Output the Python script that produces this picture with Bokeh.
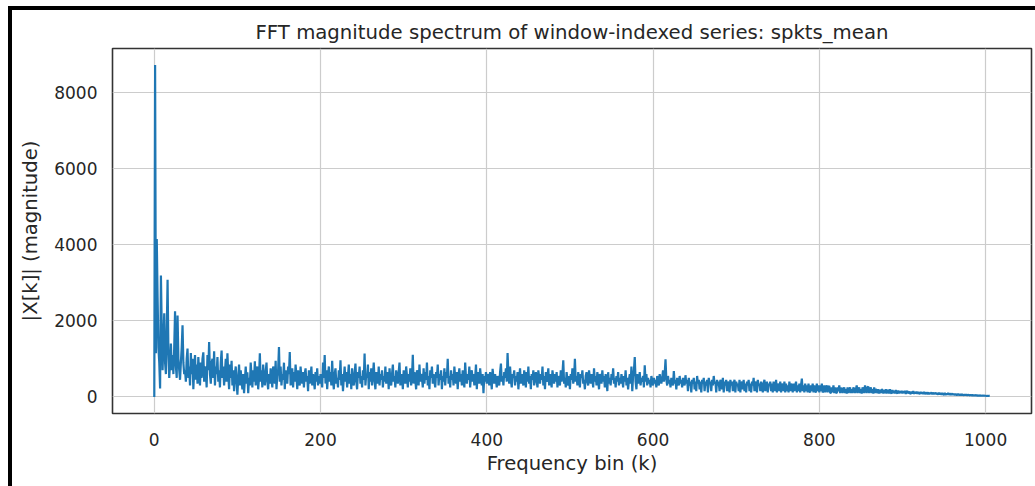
from bokeh.plotting import figure
from bokeh.models import Range1d, FixedTicker, ColumnDataSource
from bokeh.embed import file_html
from bokeh.resources import INLINE

title_text = "FFT magnitude spectrum of window-indexed series: spkts_mean"
x_label = "Frequency bin (k)"
y_label = "|X[k]| (magnitude)"
x_ticks = [0, 200, 400, 600, 800, 1000]
y_ticks = [0, 2000, 4000, 6000, 8000]

magnitude = [
    0, 8720, 1150, 4150, 2600, 1300, 900, 220, 3190, 1800, 700, 1500, 2200, 900, 600, 1700, 3080, 1200, 500, 900,
    1400, 700, 1100, 600, 1300, 2250, 800, 500, 2140, 1000, 700, 450, 900, 1300, 1880, 900, 600, 700, 400, 1000,
    1270, 500, 800, 300, 1150, 600, 1000, 200, 700, 1100, 450, 850, 350, 1050, 600, 300, 900, 500, 1000, 1170,
    400, 800, 650, 250, 1100, 700, 1440, 600, 350, 900, 1000, 500, 1200, 300, 800, 600, 1050, 400, 700, 250,
    900, 1220, 500, 800, 300, 650, 1000, 400, 1145, 600, 200, 850, 500, 950, 300, 700, 150, 600, 800, 400,
    60, 500, 850, 300, 700, 400, 200, 600, 100, 450, 800, 350, 650, 100, 500, 300, 900, 550, 250, 700,
    400, 935, 300, 600, 800, 200, 500, 1145, 400, 700, 250, 850, 500, 300, 650, 900, 400, 200, 600, 350,
    750, 500, 250, 800, 600, 350, 950, 200, 550, 700, 1310, 400, 800, 300, 600, 450, 900, 200, 700, 500,
    350, 800, 600, 1180, 300, 500, 750, 250, 650, 400, 850, 550, 200, 700, 450, 300, 800, 500, 350, 650,
    250, 600, 750, 400, 550, 150, 700, 350, 500, 800, 300, 600, 450, 200, 650, 400, 750, 300, 550, 350,
    600, 450, 250, 900, 500, 1100, 350, 700, 200, 550, 800, 400, 650, 300, 950, 450, 200, 600, 750, 350,
    500, 250, 700, 450, 960, 300, 600, 150, 500, 800, 400, 650, 250, 550, 850, 350, 600, 200, 750, 450,
    300, 600, 875, 400, 200, 650, 500, 800, 350, 550, 250, 700, 450, 1137, 300, 600, 500, 850, 200, 650,
    400, 750, 300, 550, 900, 450, 200, 650, 500, 350, 800, 300, 600, 450, 700, 250, 550, 400, 800, 350,
    500, 650, 200, 750, 450, 300, 600, 850, 400, 550, 250, 700, 500, 350, 650, 900, 300, 500, 600, 200,
    700, 450, 350, 800, 550, 250, 600, 400, 750, 300, 500, 1110, 350, 650, 450, 200, 700, 550, 300, 850,
    400, 600, 500, 250, 750, 350, 650, 450, 900, 300, 550, 200, 700, 500, 800, 350, 600, 400, 250, 650,
    500, 850, 300, 600, 450, 700, 200, 550, 400, 750, 300, 650, 500, 1000, 350, 550, 250, 700, 450, 600,
    300, 800, 500, 350, 650, 200, 550, 750, 400, 600, 300, 700, 450, 250, 900, 500, 350, 600, 450, 800,
    250, 550, 700, 400, 600, 300, 500, 850, 200, 650, 450, 350, 750, 500, 300, 600, 100, 550, 400, 650,
    350, 600, 500, 300, 650, 450, 200, 740, 500, 350, 600, 450, 250, 550, 400, 300, 650, 875, 400, 550,
    300, 650, 500, 750, 400, 1150, 600, 350, 800, 450, 250, 600, 500, 700, 300, 550, 400, 650, 200, 500,
    750, 350, 600, 450, 300, 700, 500, 250, 650, 400, 800, 350, 550, 200, 600, 450, 700, 300, 500, 650,
    400, 250, 700, 500, 350, 600, 450, 800, 300, 550, 200, 650, 400, 500, 750, 300, 600, 450, 250, 700,
    500, 350, 600, 400, 650, 250, 550, 450, 300, 700, 400, 600, 960, 350, 500, 250, 650, 450, 300, 550,
    200, 600, 450, 750, 350, 500, 1000, 400, 550, 300, 650, 450, 250, 600, 500, 700, 350, 450, 200, 550,
    650, 400, 300, 700, 500, 350, 600, 450, 250, 750, 400, 550, 300, 650, 450, 200, 600, 500, 350, 700,
    400, 550, 250, 600, 450, 150, 650, 350, 500, 300, 600, 450, 750, 350, 500, 250, 550, 400, 650, 300,
    500, 350, 600, 450, 250, 550, 400, 700, 300, 500, 200, 450, 600, 350, 800, 150, 550, 700, 1050, 400,
    200, 600, 450, 350, 650, 300, 500, 400, 550, 250, 830, 400, 600, 300, 500, 350, 450, 250, 550, 400,
    300, 500, 350, 450, 250, 550, 400, 300, 600, 450, 350, 500, 700, 400, 600, 990, 450, 300, 550, 350,
    450, 250, 500, 400, 300, 680, 350, 450, 200, 500, 400, 300, 550, 350, 450, 250, 500, 400, 300, 570,
    350, 450, 150, 500, 300, 400, 120, 450, 350, 500, 200, 400, 150, 550, 350, 450, 200, 400, 120, 450,
    350, 500, 150, 400, 300, 450, 120, 500, 350, 400, 150, 450, 300, 550, 350, 400, 120, 450, 300, 400,
    150, 450, 350, 200, 500, 120, 400, 300, 450, 150, 400, 350, 120, 450, 300, 400, 150, 350, 450, 120,
    400, 300, 350, 150, 450, 120, 350, 400, 200, 450, 150, 350, 120, 400, 300, 450, 150, 350, 120, 400,
    300, 500, 150, 350, 400, 120, 450, 300, 350, 150, 400, 300, 120, 350, 450, 150, 300, 400, 120, 350,
    300, 400, 150, 350, 120, 400, 300, 150, 450, 120, 350, 300, 150, 400, 120, 350, 300, 150, 400, 120,
    350, 150, 300, 120, 400, 150, 350, 300, 120, 350, 150, 300, 400, 120, 300, 150, 350, 120, 300, 480,
    150, 300, 120, 350, 150, 300, 120, 350, 150, 120, 300, 150, 350, 120, 300, 150, 120, 350, 150, 300,
    120, 300, 150, 350, 120, 150, 300, 120, 250, 300, 120, 250, 290, 120, 100, 250, 120, 300, 100, 250,
    120, 100, 250, 150, 300, 100, 200, 240, 100, 200, 250, 100, 200, 90, 250, 100, 200, 250, 100, 200,
    100, 250, 200, 100, 200, 300, 100, 200, 250, 100, 200, 90, 250, 200, 100, 300, 200, 100, 250, 270,
    100, 200, 250, 100, 200, 90, 250, 100, 200, 180, 100, 200, 90, 180, 100, 200, 180, 90, 180, 100,
    200, 90, 160, 180, 90, 200, 120, 90, 180, 100, 160, 90, 180, 120, 90, 170, 90, 150, 100, 160,
    90, 150, 100, 160, 80, 140, 150, 90, 140, 100, 80, 140, 90, 150, 80, 130, 90, 140, 80, 130,
    90, 80, 130, 90, 120, 80, 130, 70, 120, 90, 80, 120, 70, 110, 80, 120, 70, 110, 80, 90,
    110, 70, 100, 60, 110, 70, 100, 60, 100, 70, 60, 100, 55, 90, 60, 100, 55, 90, 60, 70,
    90, 55, 80, 50, 80, 55, 50, 80, 55, 50, 70, 45, 70, 50, 45, 60, 45, 60, 40, 55,
    50, 40, 55, 40, 50, 35, 45, 35, 45, 40, 35, 40, 30, 40, 35, 30, 35, 30, 35, 30,
    30, 25, 30, 25, 30, 28,
]
bins = list(range(len(magnitude)))

src = ColumnDataSource(data=dict(k=bins, mag=magnitude))

ymax = max(magnitude)
xmax = bins[-1]

p = figure(width=1035, height=486, output_backend="svg", toolbar_location=None,
           x_range=Range1d(-0.05 * xmax, 1.05 * xmax),
           y_range=Range1d(-0.05 * ymax, 1.05 * ymax),
           min_border_left=112, min_border_right=4, min_border_top=48, min_border_bottom=73,
           background_fill_color="white", border_fill_color="white", border_fill_alpha=0)

# black page frame at the top-left, drawn as inset shadows behind the transparent border area
p.styles = {"box-shadow": "inset 8px 6px 0 0 white, inset 12px 10px 0 0 black",
            "background-color": "white"}

p.line(x="k", y="mag", source=src, line_color="#1f77b4", line_width=2.2)

p.title.text = title_text
p.title.align = "center"
p.title.text_font = "DejaVu Sans"
p.title.text_font_size = "19.7px"
p.title.text_font_style = "normal"
p.title.text_color = "#262626"
p.title.standoff = 9

p.outline_line_color = "#333333"
p.outline_line_width = 1.6

for ax in (p.xaxis[0], p.yaxis[0]):
    ax.axis_line_color = None
    ax.major_tick_line_color = None
    ax.minor_tick_line_color = None
    ax.major_tick_out = 0
    ax.major_tick_in = 0
    ax.minor_tick_out = 0
    ax.major_label_text_font = "DejaVu Sans"
    ax.major_label_text_font_size = "17px"
    ax.major_label_text_color = "#262626"
    ax.axis_label_text_font = "DejaVu Sans"
    ax.axis_label_text_font_size = "19.6px"
    ax.axis_label_text_font_style = "normal"
    ax.axis_label_text_color = "#262626"

p.xaxis[0].ticker = FixedTicker(ticks=x_ticks)
p.yaxis[0].ticker = FixedTicker(ticks=y_ticks)
p.xaxis[0].axis_label = x_label
p.yaxis[0].axis_label = y_label
p.xaxis[0].major_label_standoff = 19
p.xaxis[0].axis_label_standoff = 3
p.yaxis[0].major_label_standoff = 15
p.yaxis[0].axis_label_standoff = 9

p.xgrid[0].grid_line_color = "#cccccc"
p.ygrid[0].grid_line_color = "#cccccc"
p.xgrid[0].grid_line_width = 1.2
p.ygrid[0].grid_line_width = 1.2

open("out.html", "w").write(file_html(p, INLINE))
